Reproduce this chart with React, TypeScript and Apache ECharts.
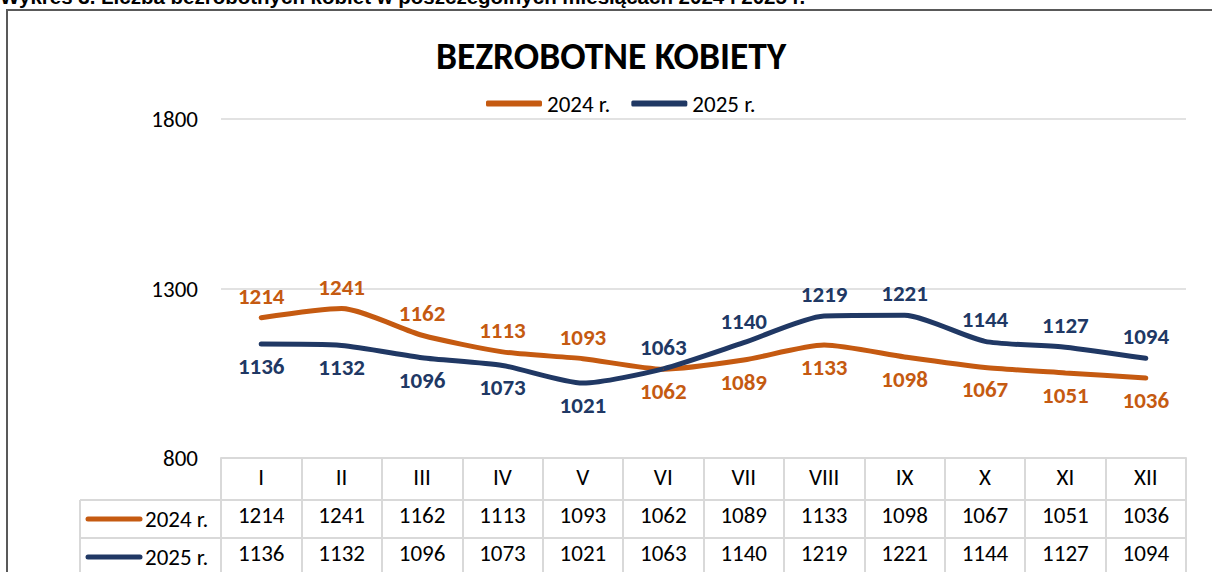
import React, { useEffect, useRef } from "react";
import * as echarts from "echarts";

const months = ["I", "II", "III", "IV", "V", "VI", "VII", "VIII", "IX", "X", "XI", "XII"];
const s2024 = [1214, 1241, 1162, 1113, 1093, 1062, 1089, 1133, 1098, 1067, 1051, 1036];
const s2025 = [1136, 1132, 1096, 1073, 1021, 1063, 1140, 1219, 1221, 1144, 1127, 1094];
const yTicks = { min: 800, max: 1800, interval: 500 };
const seriesNames = ["2024 r.", "2025 r."];
const colors = ["#C55A11", "#203864"];
const titleText = "BEZROBOTNE KOBIETY";
const captionText = "Wykres 3. Liczba bezrobotnych kobiet w poszczególnych miesiącach 2024 i 2025 r.";

const FONT = "Carlito, Lato, 'Noto Sans', sans-serif";
const FS = 23;

export default function App() {
  const ref = useRef<HTMLDivElement>(null);
  useEffect(() => {
    if (!ref.current) return;
    const chart = echarts.init(ref.current, null, { renderer: "svg" });
    const gridLeft = 221;
    const gridRight = 1186;
    const axisY = 462;
    const rowH = 38;

    const mkData = (arr: number[], other: number[]) =>
      arr.map((v, i) => ({
        value: v,
        label: { position: v >= other[i] ? "top" : "bottom" },
      }));

    const tableLines: any[] = [];
    [axisY + rowH, axisY + 2 * rowH].forEach((y) => {
      tableLines.push({
        type: "line",
        shape: { x1: 80, y1: y, x2: gridRight, y2: y },
        style: { stroke: "#d9d9d9", lineWidth: 2 },
      });
    });
    tableLines.push({
      type: "line",
      shape: { x1: 80, y1: axisY + rowH, x2: 80, y2: 600 },
      style: { stroke: "#d9d9d9", lineWidth: 2 },
    });
    seriesNames.forEach((n, i) => {
      const cy = axisY + rowH * (i + 1) + rowH / 2;
      tableLines.push({
        type: "line",
        shape: { x1: 88, y1: cy, x2: 140, y2: cy },
        style: { stroke: colors[i], lineWidth: 5, lineCap: "round" },
      });
      tableLines.push({
        type: "text",
        x: 145,
        y: cy,
        style: {
          text: n,
          font: `${FS}px ${FONT}`,
          fill: "#000",
          verticalAlign: "middle",
          align: "left",
        },
      });
    });

    const mkSeries = (idx: number, arr: number[], other: number[]) => ({
      name: seriesNames[idx],
      type: "line",
      data: mkData(arr, other),
      smooth: 0.22,
      symbol: "circle",
      symbolSize: 1,
      lineStyle: { color: colors[idx], width: 5, cap: "round" },
      itemStyle: { color: colors[idx] },
      label: {
        show: true,
        distance: 10,
        fontFamily: FONT,
        fontWeight: "bold",
        fontSize: FS,
        color: colors[idx],
      },
    });

    chart.setOption({
      animation: false,
      backgroundColor: "#fff",
      title: {
        text: titleText,
        left: 431,
        top: 32,
        textStyle: { fontFamily: FONT, fontWeight: "bold", fontSize: 37.5, color: "#000" },
      },
      legend: {
        left: 481,
        top: 87,
        itemWidth: 56,
        itemHeight: 6,
        itemGap: 21,
        icon: "roundRect",
        textStyle: { fontFamily: FONT, fontSize: FS, color: "#000" },
        data: seriesNames,
      },
      grid: { left: gridLeft, right: 1212 - gridRight, top: 119, bottom: 572 - axisY },
      xAxis: {
        type: "category",
        data: months,
        boundaryGap: true,
        axisLine: { show: true, lineStyle: { color: "#d9d9d9", width: 2 } },
        axisTick: {
          show: true,
          interval: 0,
          length: 140,
          lineStyle: { color: "#d9d9d9", width: 2 },
        },
        axisLabel: {
          interval: 0,
          margin: 0,
          fontFamily: FONT,
          fontSize: FS,
          color: "#000",
          lineHeight: rowH,
          formatter: (v: string, i: number) => `${v}\n${s2024[i]}\n${s2025[i]}`,
        },
      },
      yAxis: {
        type: "value",
        min: yTicks.min,
        max: yTicks.max,
        interval: yTicks.interval,
        axisLine: { show: false },
        axisTick: { show: false },
        axisLabel: {
          fontFamily: FONT,
          fontSize: FS,
          color: "#000",
          margin: 23,
          formatter: (v: number) => String(v),
        },
        splitLine: { lineStyle: { color: "#d9d9d9", width: 1.5 } },
      },
      series: [mkSeries(0, s2024, s2025), mkSeries(1, s2025, s2024)],
      graphic: [
        {
          type: "rect",
          shape: { x: 7, y: 10, width: 1220, height: 620 },
          style: { fill: "none", stroke: "#595959", lineWidth: 2 },
          silent: true,
        },
        {
          type: "text",
          x: 0,
          y: 7,
          style: {
            text: captionText,
            font: "bold 20.5px 'Liberation Sans', Arial, sans-serif",
            fill: "#000",
            verticalAlign: "bottom",
            align: "left",
          },
        },
        ...tableLines,
      ],
    });
    return () => chart.dispose();
  }, []);
  return (
    <div
      ref={ref}
      style={{ position: "fixed", left: 0, top: 0, width: 1212, height: 572 }}
    />
  );
}
